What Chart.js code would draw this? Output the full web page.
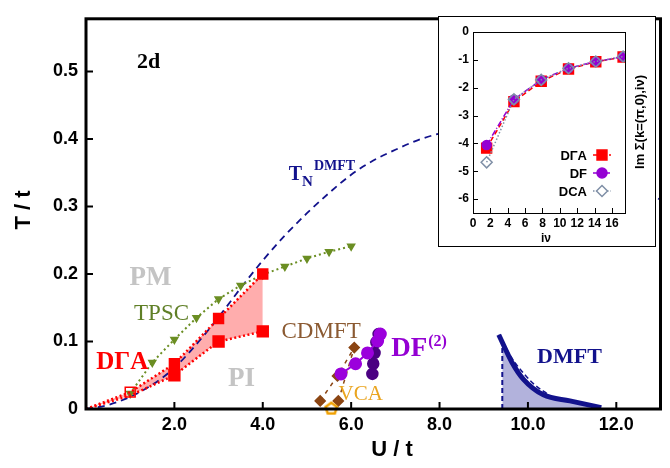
<!DOCTYPE html>
<html>
<head>
<meta charset="utf-8">
<script src="https://cdn.jsdelivr.net/npm/chart.js@4.4.0/dist/chart.umd.min.js"></script>
<style>
  body { margin: 0; background: #fff; }
  #wrap { position: relative; width: 670px; height: 468px; }
  #main { position: absolute; left: 0; top: 0; }
  #inset { position: absolute; left: 438px; top: 16px; }
</style>
</head>
<body>
<div id="wrap">
  <canvas id="main" width="670" height="468"></canvas>
  <canvas id="inset" width="218" height="231"></canvas>
</div>
<script>
// ---- main phase diagram data (U/t, T/t) ----
var uDGA = [0, 1, 2, 3, 4];
var tDGAUpper = [0, 0.025, 0.067, 0.134, 0.200];
var tDGALower = [0, 0.020, 0.050, 0.100, 0.115];

var uTPSC = [1, 1.5, 2, 2.5, 3, 3.5, 4, 4.5, 5, 5.5, 6];
var tTPSC = [0.023, 0.069, 0.103, 0.135, 0.163, 0.183, 0.199, 0.211, 0.223, 0.233, 0.241];

var uTN = [0, 0.5, 1, 1.5, 2, 2.5, 3, 3.5, 4, 4.5, 5, 5.5, 6, 6.5, 7, 7.5, 8, 9, 10, 11, 12, 12.5, 13];
var tTN = [0, 0.006, 0.018, 0.036, 0.061, 0.096, 0.136, 0.179, 0.22, 0.257, 0.29, 0.32, 0.347, 0.368, 0.384, 0.398, 0.408, 0.42, 0.41, 0.385, 0.345, 0.327, 0.31];

var uCDMFTa = [5.3, 5.69, 6.07];
var tCDMFTa = [0.012, 0.049, 0.091];
var uCDMFTb = [5.71, 6.07];
var tCDMFTb = [0.012, 0.091];

var uDF = [5.77, 6.1, 6.37, 6.6, 6.66];
var tDF = [0.052, 0.067, 0.083, 0.101, 0.111];
var uDFdark = [6.48, 6.5, 6.53, 6.57, 6.62];
var tDFdark = [0.052, 0.067, 0.083, 0.099, 0.111];

var uVCA = [5.55];
var tVCA = [0.002];

var uDMFT = [9.34, 9.64, 9.9, 10.35, 10.95, 11.66];
var tDMFT = [0.11, 0.069, 0.044, 0.021, 0.012, 0.002];
var uDMFTdash = [9.34, 9.62, 9.9, 10.15, 10.45];
var tDMFTdash = [0.11, 0.077, 0.053, 0.036, 0.022];
var uDMFTfill = [9.42, 9.64, 9.9, 10.35, 10.95, 11.66];
var tDMFTfill = [0.097, 0.069, 0.044, 0.021, 0.012, 0.002];
var uDMFTedge = [9.42, 9.42];
var tDMFTedge = [0, 0.1];

// ---- inset data: Im Sigma(k=(pi,0), i nu) ----
var nu = [1.571, 4.712, 7.854, 10.996, 14.137, 17.279];
var sigmaDGA = [-4.17, -2.5, -1.77, -1.33, -1.07, -0.9];
var sigmaDF = [-4.06, -2.42, -1.72, -1.3, -1.06, -0.89];
var sigmaDCA = [-4.68, -2.42, -1.72, -1.3, -1.06, -0.88];

function pts(xs, ys) {
    return xs.map(function (x, i) { return { x: x, y: ys[i] }; });
}

function pentagon(size, color) {
    var c = document.createElement('canvas');
    c.width = size; c.height = size;
    var g = c.getContext('2d');
    g.strokeStyle = color;
    g.lineWidth = 2.5;
    g.beginPath();
    for (var k = 0; k < 5; k++) {
        var a = -Math.PI / 2 + k * 2 * Math.PI / 5;
        var r = size / 2 - 2;
        var px = size / 2 + r * Math.cos(a), py = size / 2 + 1 + r * Math.sin(a);
        if (k === 0) g.moveTo(px, py); else g.lineTo(px, py);
    }
    g.closePath();
    g.stroke();
    return c;
}

var NAVY = '#12128c';
var SERIF = '"Liberation Serif", "Times New Roman", serif';
var SANS = '"Liberation Sans", Arial, sans-serif';

function txt(ctx, s, px, py, font, color, align) {
    ctx.font = font;
    ctx.fillStyle = color;
    ctx.textAlign = align || 'center';
    ctx.textBaseline = 'alphabetic';
    ctx.fillText(s, px, py);
    return ctx.measureText(s).width;
}

var mainDecor = {
    id: 'mainDecor',
    afterDatasetsDraw: function (chart) {
        var ctx = chart.ctx, a = chart.chartArea;
        var x = chart.scales.x, y = chart.scales.y;
        ctx.save();
        ctx.strokeStyle = '#000';
        ctx.lineWidth = 3;
        ctx.strokeRect(a.left, a.top, a.right - a.left, a.bottom - a.top);
        ctx.lineWidth = 2;
        ctx.beginPath();
        x.ticks.forEach(function (t) {
            if (t.value <= 0) return;
            var px = x.getPixelForValue(t.value);
            ctx.moveTo(px, a.bottom); ctx.lineTo(px, a.bottom - 7);
        });
        y.ticks.forEach(function (t) {
            if (t.value <= 0) return;
            var py = y.getPixelForValue(t.value);
            ctx.moveTo(a.left, py); ctx.lineTo(a.left + 7, py);
        });
        ctx.stroke();

        function X(u) { return x.getPixelForValue(u); }
        function Y(t) { return y.getPixelForValue(t); }

        txt(ctx, '2d', X(1.417), Y(0.5056), 'bold 22px ' + SERIF, '#000');
        txt(ctx, 'PM', X(1.462), Y(0.184), 'bold 27px ' + SERIF, '#c4c4c4');
        txt(ctx, 'TPSC', X(1.709), Y(0.1318), '23px ' + SERIF, '#5f7f26');
        txt(ctx, 'D\u0393A', X(0.821), Y(0.0594), 'bold 25px ' + SERIF, '#ff0000');
        txt(ctx, 'PI', X(3.52), Y(0.0348), 'bold 27px ' + SERIF, '#c4c4c4');
        txt(ctx, 'CDMFT', X(5.319), Y(0.1047), '23px ' + SERIF, '#8b5a32');
        var w = txt(ctx, 'DF', X(6.905), Y(0.0782), 'bold 27px ' + SERIF, '#9400d3', 'left');
        txt(ctx, '(2)', X(6.905) + w + 1, Y(0.0927), 'bold 16px ' + SERIF, '#9400d3', 'left');
        txt(ctx, 'VCA', X(6.215), Y(0.013), '21px ' + SERIF, '#eaa520');
        txt(ctx, 'DMFT', X(10.94), Y(0.0685), 'bold 22px ' + SERIF, NAVY);
        var wt = txt(ctx, 'T', X(4.588), Y(0.339), 'bold 20px ' + SERIF, NAVY, 'left');
        var wn = txt(ctx, 'N', X(4.588) + wt, Y(0.3307), 'bold 15px ' + SERIF, NAVY, 'left');
        txt(ctx, 'DMFT', X(4.588) + wt + wn + 1, Y(0.3535), 'bold 14px ' + SERIF, NAVY, 'left');

        // axis titles
        txt(ctx, 'U / t', 392, 456, 'bold 22px ' + SANS, '#000');
        ctx.translate(22, 210);
        ctx.rotate(-Math.PI / 2);
        txt(ctx, 'T / t', 0, 8, 'bold 22px ' + SANS, '#000');
        ctx.restore();
    }
};

var tickFont = { family: SANS, weight: 'bold', size: 18 };

new Chart(document.getElementById('main'), {
    type: 'line',
    data: {
        datasets: [
            { data: pts(uVCA, tVCA), showLine: false, pointStyle: pentagon(16, '#f0a000'), clip: false },
            { data: pts(uDF, tDF), borderColor: '#9b00dc', borderWidth: 2, pointRadius: 5.5,
              pointBackgroundColor: '#9b00dc', pointBorderColor: '#9b00dc' },
            { data: pts(uDFdark, tDFdark), borderColor: '#4b0082', borderWidth: 1.5, pointRadius: 5.5,
              pointBackgroundColor: '#4b0082', pointBorderColor: '#4b0082' },
            { data: pts(uCDMFTa, tCDMFTa), borderColor: '#8b4513', borderWidth: 1.5, borderDash: [4, 5],
              pointStyle: 'rectRot', pointRadius: 5, pointBackgroundColor: '#8b4513', pointBorderColor: '#8b4513' },
            { data: pts(uCDMFTb, tCDMFTb), borderColor: '#8b4513', borderWidth: 1.5, borderDash: [4, 5],
              pointStyle: 'rectRot', pointRadius: [5, 0], pointBackgroundColor: '#8b4513', pointBorderColor: '#8b4513' },
            { data: pts(uDGA, tDGAUpper), borderColor: '#ff0000', borderWidth: 2.5, borderDash: [2, 2.5],
              pointStyle: 'rect', pointRadius: [0, 7, 7, 7, 7], pointBorderWidth: 1.5,
              pointBackgroundColor: ['#ff0000', 'rgba(0,0,0,0)', '#ff0000', '#ff0000', '#ff0000'],
              pointBorderColor: '#ff0000' },
            { data: pts(uDGA, tDGALower), borderColor: '#ff0000', borderWidth: 2.5, borderDash: [2, 2.5],
              pointStyle: 'rect', pointRadius: [0, 0, 7, 7, 7], pointBackgroundColor: '#ff0000',
              pointBorderColor: '#ff0000' },
            { data: pts(uTPSC, tTPSC), borderColor: '#6b8e23', borderWidth: 2, borderDash: [2, 3],
              pointStyle: 'triangle', rotation: 180, pointRadius: 3.5, pointBackgroundColor: '#6b8e23',
              pointBorderColor: '#6b8e23' },
            { data: pts(uDMFTdash, tDMFTdash), borderColor: NAVY, borderWidth: 1.5, borderDash: [5, 3],
              pointRadius: 0, cubicInterpolationMode: 'monotone' },
            { data: pts(uDMFT, tDMFT), borderColor: NAVY, borderWidth: 5, pointRadius: 0,
              cubicInterpolationMode: 'monotone' },
            { data: pts(uDMFTedge, tDMFTedge), borderColor: NAVY, borderWidth: 2, borderDash: [5, 3],
              pointRadius: 0 },
            { data: pts(uTN, tTN), borderColor: NAVY, borderWidth: 1.8, borderDash: [7, 5],
              pointRadius: 0, cubicInterpolationMode: 'monotone' },
            { data: pts(uDMFTfill, tDMFTfill), borderWidth: 0, pointRadius: 0,
              cubicInterpolationMode: 'monotone', fill: 'origin', backgroundColor: 'rgba(0,0,139,0.3)' },
            { data: pts(uDGA, tDGAUpper), borderWidth: 0, pointRadius: 0,
              fill: 6, backgroundColor: 'rgba(255,0,0,0.32)' }
        ]
    },
    options: {
        responsive: false,
        animation: false,
        devicePixelRatio: 1,
        layout: { padding: { top: 10, right: 6, left: 0, bottom: 0 } },
        plugins: { legend: { display: false }, tooltip: { enabled: false } },
        scales: {
            x: {
                type: 'linear', min: 0, max: 13,
                afterFit: function (s) { s.height = 59; },
                grid: { display: false, drawTicks: false },
                border: { display: false },
                ticks: {
                    stepSize: 2, includeBounds: false, padding: 5, color: '#000', font: tickFont,
                    maxRotation: 0, autoSkip: false,
                    callback: function (v) { return v === 0 ? '' : v.toFixed(1); }
                }
            },
            y: {
                type: 'linear', min: 0, max: 0.578,
                afterFit: function (s) { s.width = 86; },
                grid: { display: false, drawTicks: false },
                border: { display: false },
                ticks: {
                    stepSize: 0.1, includeBounds: false, padding: 8, color: '#000', font: tickFont,
                    callback: function (v) { return v === 0 ? '0' : v.toFixed(1); }
                }
            }
        }
    },
    plugins: [mainDecor]
});

// ---- inset ----
var insetLegend = [
    { label: 'D\u0393A', color: '#ff0000', style: 'rect', radius: 7, fill: true, dash: [5, 3], y: 139 },
    { label: 'DF', color: '#9400d3', style: 'circle', radius: 5, fill: true, dash: [6, 2, 1, 2], y: 157 },
    { label: 'DCA', color: '#7f8fa6', style: 'rectRot', radius: 5.5, fill: false, dash: [1.5, 2], y: 175 }
];

var insetDecor = {
    id: 'insetDecor',
    beforeDraw: function (chart) {
        var ctx = chart.ctx;
        ctx.save();
        ctx.fillStyle = '#fff';
        ctx.fillRect(0, 0, chart.width, chart.height);
        ctx.strokeStyle = '#000';
        ctx.lineWidth = 1;
        ctx.strokeRect(0.5, 0.5, chart.width - 1, chart.height - 1);
        ctx.restore();
    },
    afterDatasetsDraw: function (chart) {
        var ctx = chart.ctx, a = chart.chartArea;
        var x = chart.scales.x, y = chart.scales.y;
        ctx.save();
        ctx.strokeStyle = '#000';
        ctx.lineWidth = 1;
        ctx.strokeRect(Math.round(a.left) + 0.5, Math.round(a.top) + 0.5,
            Math.round(a.right - a.left), Math.round(a.bottom - a.top));
        ctx.beginPath();
        x.ticks.forEach(function (t) {
            var px = Math.round(x.getPixelForValue(t.value)) + 0.5;
            ctx.moveTo(px, a.bottom); ctx.lineTo(px, a.bottom - 5);
        });
        y.ticks.forEach(function (t) {
            var py = Math.round(y.getPixelForValue(t.value)) + 0.5;
            ctx.moveTo(a.left, py); ctx.lineTo(a.left + 5, py);
        });
        ctx.stroke();

        insetLegend.forEach(function (e) {
            txt(ctx, e.label, 149, e.y + 5, 'bold 13px ' + SANS, '#000', 'right');
            ctx.strokeStyle = e.color;
            ctx.lineWidth = 1.5;
            ctx.setLineDash(e.dash);
            ctx.beginPath();
            ctx.moveTo(155, e.y); ctx.lineTo(173, e.y);
            ctx.stroke();
            ctx.setLineDash([]);
            ctx.fillStyle = e.fill ? e.color : '#fff';
            ctx.strokeStyle = e.color;
            Chart.helpers.drawPoint(ctx, { pointStyle: e.style, radius: e.radius, rotation: 0, borderWidth: 1.5 }, 164, e.y);
        });

        txt(ctx, 'i\u03bd', 108, 226, 'bold 12px ' + SANS, '#000');
        ctx.translate(206, 106);
        ctx.rotate(-Math.PI / 2);
        txt(ctx, 'Im \u03a3(k=(\u03c0,0),i\u03bd)', 0, 0, 'bold 13px ' + SANS, '#000');
        ctx.restore();
    }
};

var insetFont = { family: SANS, weight: 'bold', size: 12 };

new Chart(document.getElementById('inset'), {
    type: 'line',
    data: {
        datasets: [
            { label: 'DCA', data: pts(nu, sigmaDCA), borderColor: '#7f8fa6', borderWidth: 1.5, borderDash: [1.5, 2],
              pointStyle: 'rectRot', pointRadius: 5.5, pointBorderWidth: 1.5,
              pointBackgroundColor: 'rgba(255,255,255,0)', pointBorderColor: '#7f8fa6' },
            { label: 'DF', data: pts(nu, sigmaDF), borderColor: '#9400d3', borderWidth: 1.5, borderDash: [6, 2, 1, 2],
              pointRadius: 4.5, pointBackgroundColor: '#9400d3', pointBorderColor: '#9400d3' },
            { label: 'D\u0393A', data: pts(nu, sigmaDGA), borderColor: '#ff0000', borderWidth: 1.5, borderDash: [5, 3],
              pointStyle: 'rect', pointRadius: 7, pointBackgroundColor: '#ff0000', pointBorderColor: '#ff0000' }
        ]
    },
    options: {
        responsive: false,
        animation: false,
        devicePixelRatio: 1,
        layout: { padding: { top: 16, right: 31, left: 0, bottom: 0 } },
        plugins: { legend: { display: false }, tooltip: { enabled: false } },
        scales: {
            x: {
                type: 'linear', min: 0, max: 17.5,
                afterFit: function (s) { s.height = 34; },
                grid: { display: false, drawTicks: false },
                border: { display: false },
                ticks: { stepSize: 2, includeBounds: false, padding: 3, color: '#000', font: insetFont,
                         maxRotation: 0, autoSkip: false }
            },
            y: {
                type: 'linear', min: -6.5, max: 0,
                afterFit: function (s) { s.width = 35; },
                grid: { display: false, drawTicks: false },
                border: { display: false },
                ticks: { stepSize: 1, includeBounds: false, padding: 4, color: '#000', font: insetFont }
            }
        }
    },
    plugins: [insetDecor]
});
</script>
</body>
</html>
